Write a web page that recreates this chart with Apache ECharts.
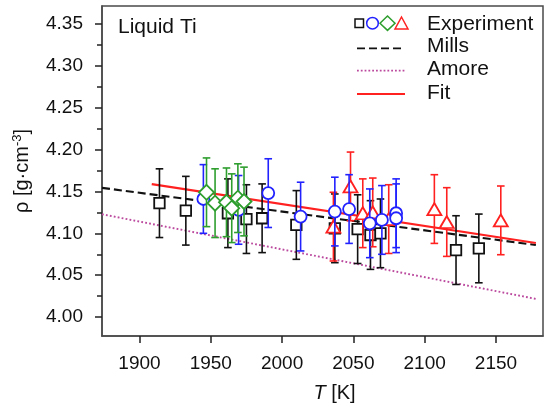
<!DOCTYPE html>
<html><head><meta charset="utf-8">
<script src="https://cdn.jsdelivr.net/npm/echarts@6.0.0/dist/echarts.min.js"></script>
<style>html,body{margin:0;padding:0;background:#fff}#c{width:546px;height:408px}</style>
</head><body><div id="c"></div>
<script>
// ---- data ----
const xTicks = [1900, 1950, 2000, 2050, 2100, 2150];
const yTicks = [4.00, 4.05, 4.10, 4.15, 4.20, 4.25, 4.30, 4.35];
const yMinorTicks = [4.025, 4.075, 4.125, 4.175, 4.225, 4.275, 4.325];

const sqT   = [1914, 1932.5, 1962, 1975, 1986, 2010, 2037, 2053, 2062, 2069, 2122, 2138];
const sqRho = [4.136, 4.127, 4.124, 4.117, 4.118, 4.110, 4.106, 4.105, 4.098, 4.100, 4.080, 4.082];
const sqErr = [0.041, 0.041, 0.041, 0.041, 0.041, 0.041, 0.041, 0.041, 0.041, 0.041, 0.041, 0.041];

const ciT   = [1944.8, 1969.5, 1990.3, 2013, 2037, 2047, 2061.5, 2070, 2080, 2080];
const ciRho = [4.141, 4.128, 4.148, 4.120, 4.126, 4.129, 4.112, 4.116, 4.124, 4.118];
const ciErr = [0.041, 0.041, 0.041, 0.041, 0.041, 0.041, 0.041, 0.041, 0.041, 0.041];

const diT   = [1947, 1953, 1961, 1964.7, 1969, 1973.3];
const diRho = [4.149, 4.136, 4.137, 4.130, 4.142, 4.138];
const diErr = [0.041, 0.041, 0.041, 0.041, 0.041, 0.041];

const trT   = [2036, 2048, 2056.6, 2063.6, 2074.8, 2106.8, 2115.5, 2153.4];
const trRho = [4.108, 4.156, 4.124, 4.125, 4.117, 4.129, 4.1135, 4.1155];
const trErr = [0.041, 0.041, 0.041, 0.041, 0.041, 0.041, 0.041, 0.041];

const millsT = [1873.7, 2178];
const millsRho = [4.1543, 4.0861];
const amoreT = [1873.7, 2178];
const amoreRho = [4.1228, 4.0218];
const fitT = [1908.6, 2178];
const fitRho = [4.1588, 4.0885];

// ---- chart ----
const FONT = "'Liberation Sans', Arial, sans-serif";
const FRAME = '#4a4a4a';
const C_BLACK = '#111111', C_BLUE = '#2222ff', C_GREEN = '#2e9e2e', C_RED = '#ff2020', C_PURPLE = '#bb4a9e';

function pairs(a, b) { return a.map((v, i) => [v, b[i]]); }

function errSeries(T, R, E, color, z) {
  return {
    type: 'custom', silent: true, z: z, clip: false,
    data: T.map((t, i) => [t, R[i] - E[i], R[i] + E[i]]),
    encode: { x: 0, y: [1, 2] },
    renderItem: function (params, api) {
      const lo = api.coord([api.value(0), api.value(1)]);
      const hi = api.coord([api.value(0), api.value(2)]);
      const w = 3.8;
      const style = { stroke: color, lineWidth: 1.6, fill: null };
      return { type: 'group', children: [
        { type: 'line', shape: { x1: lo[0], y1: lo[1], x2: hi[0], y2: hi[1] }, style: style },
        { type: 'line', shape: { x1: lo[0] - w, y1: lo[1], x2: lo[0] + w, y2: lo[1] }, style: style },
        { type: 'line', shape: { x1: hi[0] - w, y1: hi[1], x2: hi[0] + w, y2: hi[1] }, style: style }
      ]};
    }
  };
}
function markSeries(T, R, symbol, size, color, z) {
  return {
    type: 'scatter', silent: true, z: z, symbol: symbol, symbolSize: size,
    data: pairs(T, R),
    itemStyle: { color: '#ffffff', borderColor: color, borderWidth: 1.8, opacity: 1 }
  };
}
function lineSeries(T, R, color, type, width, z) {
  return {
    type: 'line', silent: true, z: z, symbol: 'none', data: pairs(T, R),
    lineStyle: { color: color, width: width, type: type }
  };
}

const chart = echarts.init(document.getElementById('c'), null, { renderer: 'canvas' });

const legendX0 = 357, legendX1 = 405, legendTextX = 427;
const graphic = [
  { type: 'text', left: 118, top: 17, style: { text: 'Liquid Ti', font: '21px ' + FONT, fill: '#111' } },
  // Experiment symbols
  { type: 'rect', shape: { x: 355, y: 19, width: 8.5, height: 8.5 }, style: { fill: '#fff', stroke: C_BLACK, lineWidth: 1.5 } },
  { type: 'circle', shape: { cx: 372.5, cy: 23.2, r: 5.8 }, style: { fill: '#fff', stroke: C_BLUE, lineWidth: 1.5 } },
  { type: 'polygon', shape: { points: [[387.5, 16], [395, 23.2], [387.5, 30.4], [380, 23.2]] }, style: { fill: '#fff', stroke: C_GREEN, lineWidth: 1.5 } },
  { type: 'polygon', shape: { points: [[401.5, 17], [408, 29], [395, 29]] }, style: { fill: '#fff', stroke: C_RED, lineWidth: 1.5 } },
  { type: 'text', x: legendTextX, y: 24, style: { text: 'Experiment', font: '21px ' + FONT, fill: '#111', verticalAlign: 'middle' } },
  // Mills
  { type: 'line', shape: { x1: legendX0, y1: 48.3, x2: legendX1, y2: 48.3 }, style: { stroke: C_BLACK, lineWidth: 1.8, lineDash: [8, 4] } },
  { type: 'text', x: legendTextX, y: 46.5, style: { text: 'Mills', font: '21px ' + FONT, fill: '#111', verticalAlign: 'middle' } },
  // Amore
  { type: 'line', shape: { x1: legendX0, y1: 70.7, x2: legendX1, y2: 70.7 }, style: { stroke: C_PURPLE, lineWidth: 1.8, lineDash: [1.8, 2] } },
  { type: 'text', x: legendTextX, y: 69.5, style: { text: 'Amore', font: '21px ' + FONT, fill: '#111', verticalAlign: 'middle' } },
  // Fit
  { type: 'line', shape: { x1: legendX0, y1: 94, x2: legendX1, y2: 94 }, style: { stroke: C_RED, lineWidth: 2.2 } },
  { type: 'text', x: legendTextX, y: 93.5, style: { text: 'Fit', font: '21px ' + FONT, fill: '#111', verticalAlign: 'middle' } }
];

const option = {
  animation: false,
  backgroundColor: '#ffffff',
  grid: { left: 102, right: 3, top: 6, bottom: 69, show: true, borderColor: FRAME, borderWidth: 1.5, backgroundColor: 'transparent' },
  xAxis: {
    type: 'value', min: 1873.7, max: 2183,
    name: '{i|T} [K]', nameLocation: 'middle', nameGap: 47,
    nameTextStyle: { fontFamily: FONT, fontSize: 20, color: '#111', padding: [0, 0, 0, 24],
      rich: { i: { fontStyle: 'italic', fontFamily: FONT, fontSize: 20, color: '#111' } } },
    axisLine: { show: true, lineStyle: { color: FRAME, width: 1.5 } },
    axisTick: { show: true, inside: false, length: 7, lineStyle: { color: '#222', width: 1.5 }, customValues: xTicks },
    axisLabel: { show: true, margin: 18, fontFamily: FONT, fontSize: 19, color: '#111', customValues: xTicks,
      formatter: function (v) { return String(Math.round(v)); } },
    splitLine: { show: false }
  },
  yAxis: [{
    type: 'value', min: 3.9775, max: 4.3713,
    name: '{a|ρ [g·cm}{s|-3}{a|]}', nameLocation: 'middle', nameGap: 69, nameRotate: 90,
    nameTextStyle: { fontFamily: FONT, fontSize: 20, color: '#111',
      rich: { a: { fontFamily: FONT, fontSize: 20, color: '#111' },
              s: { fontFamily: FONT, fontSize: 13, color: '#111', verticalAlign: 'top', padding: [0, 0, 9, 0] } } },
    axisLine: { show: true, lineStyle: { color: FRAME, width: 1.5 } },
    axisTick: { show: true, inside: false, length: 7, lineStyle: { color: '#222', width: 1.5 }, customValues: yTicks },
    axisLabel: { show: true, margin: 19, fontFamily: FONT, fontSize: 19, color: '#111', customValues: yTicks,
      formatter: function (v) { return v.toFixed(2); } },
    splitLine: { show: false }
  }, {
    type: 'value', min: 3.9775, max: 4.3713, position: 'left',
    axisLine: { show: false },
    axisTick: { show: true, inside: false, length: 5, lineStyle: { color: '#222', width: 1.5 }, customValues: yMinorTicks },
    axisLabel: { show: false },
    splitLine: { show: false }
  }],
  series: [
    lineSeries(amoreT, amoreRho, C_PURPLE, [1.8, 2.2], 1.9, 1),
    lineSeries(millsT, millsRho, C_BLACK, [8, 4], 2.1, 2),
    lineSeries(fitT, fitRho, C_RED, 'solid', 2.2, 3),
    errSeries(sqT, sqRho, sqErr, C_BLACK, 4),
    markSeries(sqT, sqRho, 'rect', 10.5, C_BLACK, 5),
    errSeries(trT, trRho, trErr, C_RED, 6),
    markSeries(trT, trRho, 'triangle', [14, 12], C_RED, 7),
    errSeries(ciT, ciRho, ciErr, C_BLUE, 8),
    markSeries(ciT, ciRho, 'circle', 12, C_BLUE, 9),
    errSeries(diT, diRho, diErr, C_GREEN, 10),
    markSeries(diT, diRho, 'diamond', [15, 15], C_GREEN, 11)
  ],
  graphic: graphic
};
chart.setOption(option);
</script>
</body></html>
